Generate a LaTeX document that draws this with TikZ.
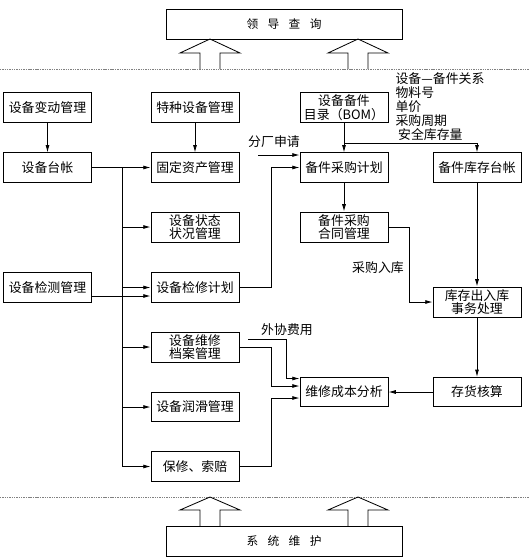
\documentclass[tikz,border=0pt]{standalone}
\usepackage{fontspec}
\setmainfont{Noto Sans CJK SC}
\usetikzlibrary{arrows.meta, positioning}

\begin{document}
\begin{tikzpicture}[x=0.03cm, y=-0.03cm, line width=0.7pt,
  box/.style={draw, minimum height=0.88cm, minimum width=2.64cm, align=center, font=\fontsize{11}{11.5}\selectfont, inner sep=2pt},
  wide/.style={box, minimum height=0.9cm, minimum width=7.08cm, font=\fontsize{10}{12}\selectfont},
  arr/.style={-{Latex[length=2.2mm, width=1.2mm]}},
  sep/.style={gray, line width=0.4pt, dash pattern=on 1.2pt off 0.8pt},
  note/.style={font=\fontsize{11}{12}\selectfont, inner sep=1pt}
]
\useasboundingbox (0,0) rectangle (529,559);
% query and maintenance layers
\node[wide] (lead)  at (284,24)  {领\hspace{0.8em}导\hspace{0.8em}查\hspace{0.8em}询};
\node[wide] (maint) at (284,541) {系\hspace{0.8em}统\hspace{0.8em}维\hspace{0.8em}护};
\draw[sep] (0,69) -- (529,69);
\draw[sep] (0,497) -- (529,497);
\draw (200,69) -- (200,53) -- (180,53) -- (210,39) -- (240,53) -- (220,53) -- (220,69);
\draw (348,69) -- (348,53) -- (328,53) -- (358,39) -- (388,53) -- (368,53) -- (368,69);
\draw (200,526) -- (200,510) -- (180,510) -- (210,497) -- (240,510) -- (220,510) -- (220,526);
\draw (348,526) -- (348,510) -- (328,510) -- (358,497) -- (388,510) -- (368,510) -- (368,526);
% modules
\node[box] (chg)      at (47.5,107.5) {设备变动管理};
\node[box] (spec)     at (195,107.5)  {特种设备管理};
\node[box] (bom)      at (344,107.5)  {设备备件\\目录（BOM）};
\node[box] (ledger)   at (47.5,167.5) {设备台帐};
\node[box] (fixed)    at (195,167.5)  {固定资产管理};
\node[box] (plan)     at (344,167.5)  {备件采购计划};
\node[box] (stock)    at (477,167.5)  {备件库存台帐};
\node[box] (state)    at (195,227)    {设备状态\\状况管理};
\node[box] (contract) at (344,227)    {备件采购\\合同管理};
\node[box] (detect)   at (47.5,287.5) {设备检测管理};
\node[box] (overhaul) at (195,287.5)  {设备检修计划};
\node[box] (inout)    at (477,302)    {库存出入库\\事务处理};
\node[box] (record)   at (195,347)    {设备维修\\档案管理};
\node[box] (cost)     at (344,392)    {维修成本分析};
\node[box] (account)  at (477,392)    {存货核算};
\node[box] (lube)     at (195,407)    {设备润滑管理};
\node[box] (claim)    at (195,466.5)  {保修、索赔};
% labels
\node[note, align=left, anchor=north west] (bomnote) at (394,71) {设备—备件关系\\物料号\\单价\\采购周期\\\hspace{0.2em}安全库存量};
\node[note] (req)     at (274,142) {分厂申请};
\node[note] (instock) at (378,268) {采购入库};
\node[note] (outfee)  at (287,330) {外协费用};
\coordinate (reqin) at (258,155);
\coordinate (feein) at (248,339);
\coordinate (bus)   at (122,167.5);
% connections
\draw[arr] (chg) -- (ledger);
\draw[arr] (spec) -- (fixed);
\draw[arr] (ledger) -- (fixed);
\draw[arr] (bus) |- (claim);
\draw[arr] (bus |- state) -- (state);
\draw[arr] (bus |- overhaul) -- (overhaul);
\draw[arr] (bus |- record) -- (record);
\draw[arr] (bus |- lube) -- (lube);
\draw[arr] (detect.east |- 0,296) -- (overhaul.west |- 0,296);
\draw[arr] (overhaul.east) -- (271,287.5) |- (plan);
\draw[arr] (reqin) -- (reqin -| plan.west);
\draw[arr] (bom) -- (plan);
\draw[arr] (bom.south |- 0,143) -| (stock);
\draw[arr] (plan) -- (contract);
\draw[arr] (contract.east) -- (409,227) |- (inout);
\draw[arr] (stock) -- (inout);
\draw[arr] (inout) -- (account);
\draw[arr] (account) -- (cost);
\draw[arr] (feein) -- (286,339) |- (cost.west |- 0,378.5);
\draw[arr] (record.east) -- (271,347) |- (cost.west |- 0,386);
\draw[arr] (claim.east) -- (271,466.5) |- (cost.west |- 0,398);
\end{tikzpicture}
\end{document}
